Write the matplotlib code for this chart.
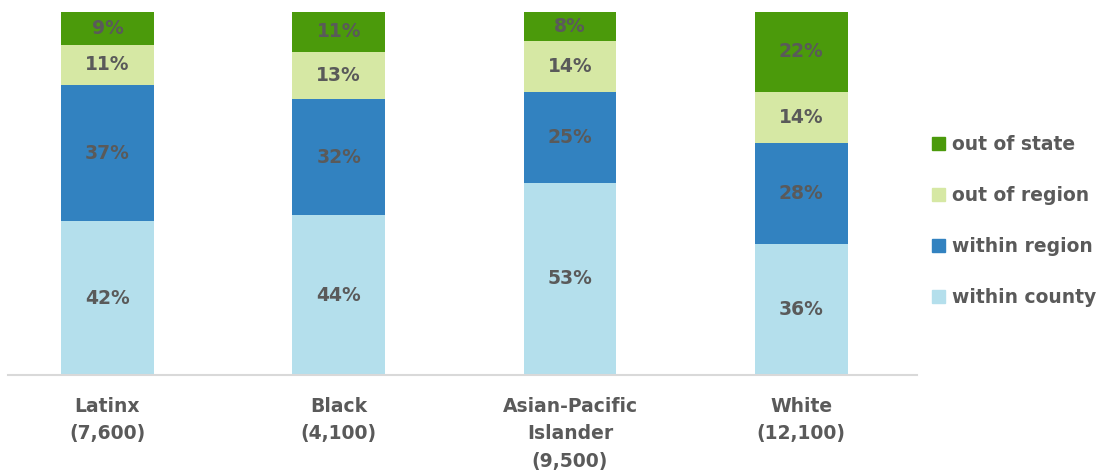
import matplotlib
matplotlib.use("Agg")
import matplotlib.pyplot as plt
from matplotlib.patches import Patch

categories = ["Latinx\n(7,600)", "Black\n(4,100)", "Asian-Pacific\nIslander\n(9,500)", "White\n(12,100)"]
series_names = ["within county", "within region", "out of region", "out of state"]
# shares (percent) per group; labels shown rounded
within_county = [42.4, 44, 53, 36]
within_region = [37.4, 32, 25, 28]
out_of_region = [11.2, 13, 14, 14]
out_of_state = [9.0, 11, 8, 22]
colors = ["#b4dfec", "#3282c0", "#d6e8a4", "#4b9a0b"]

plt.rcParams['font.family'] = ['DejaVu Sans']
TXT = "#5a5a5a"
fig = plt.figure(figsize=(11.03, 4.70), dpi=100)
ax = fig.add_axes([8/1103, 95/470, 909/1103, 363/470])

x = list(range(len(categories)))
bottom = [0]*4
for name, vals, c in zip(series_names, [within_county, within_region, out_of_region, out_of_state], colors):
    ax.bar(x, vals, bottom=bottom, width=0.40, color=c, label=name)
    for i, v in enumerate(vals):
        ax.text(x[i], bottom[i] + v/2, f"{round(v)}%", ha="center", va="center",
                fontsize=13.5, fontweight="bold", color=TXT)
    bottom = [b + v for b, v in zip(bottom, vals)]

ax.set_xlim(-0.43, 3.5)
ax.set_ylim(0, 100)
ax.set_xticks(x)
ax.set_xticklabels(categories, fontsize=13.5, fontweight="bold", color=TXT, linespacing=1.55)
ax.tick_params(axis="x", length=0, pad=16)
ax.set_yticks([])
for s in ["top", "right", "left"]:
    ax.spines[s].set_visible(False)
ax.spines["bottom"].set_color("#d9d9d9")
ax.spines["bottom"].set_linewidth(1.5)

handles = [Patch(color=c, label=n) for n, c in zip(series_names, colors)][::-1]
leg = fig.legend(handles=handles, loc="center left", bbox_to_anchor=(915/1103, 1 - 221/470),
                 frameon=False, prop={"size": 13.5, "weight": "bold"},
                 handlelength=0.7, handleheight=0.7, handletextpad=0.4, labelspacing=1.72)
for t in leg.get_texts():
    t.set_color(TXT)

fig.savefig("out.png", dpi=100)
